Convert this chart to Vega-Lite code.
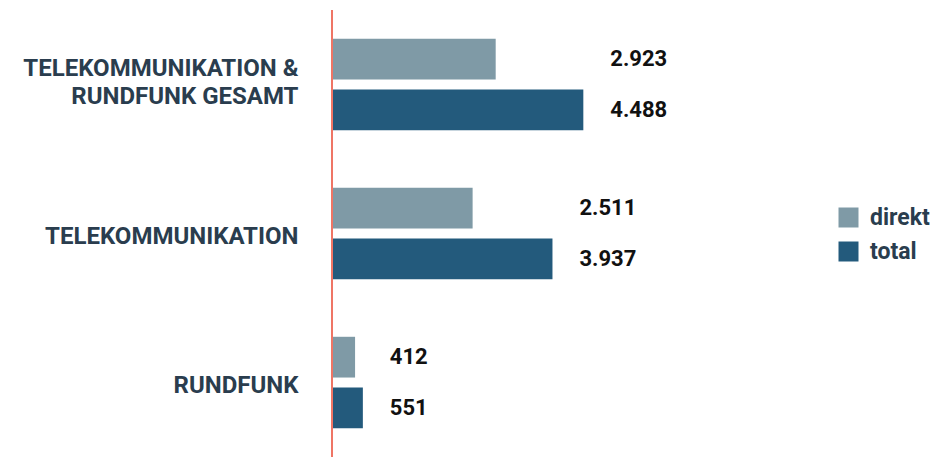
{
  "$schema": "https://vega.github.io/schema/vega-lite/v6.json",
  "autosize": "none",
  "width": 280,
  "height": 447,
  "padding": {"left": 332, "top": 10, "right": 323, "bottom": 0},
  "background": "white",
  "config": {
    "view": {"stroke": null},
    "font": "Roboto",
    "locale": {"number": {"decimal": ",", "thousands": ".", "grouping": [3], "currency": ["", " €"]}}
  },
  "data": {
    "values": [
      {"kategorie": "TELEKOMMUNIKATION & RUNDFUNK GESAMT", "typ": "direkt", "wert": 2923},
      {"kategorie": "TELEKOMMUNIKATION & RUNDFUNK GESAMT", "typ": "total", "wert": 4488},
      {"kategorie": "TELEKOMMUNIKATION", "typ": "direkt", "wert": 2511},
      {"kategorie": "TELEKOMMUNIKATION", "typ": "total", "wert": 3937},
      {"kategorie": "RUNDFUNK", "typ": "direkt", "wert": 412},
      {"kategorie": "RUNDFUNK", "typ": "total", "wert": 551}
    ]
  },
  "transform": [
    {"joinaggregate": [{"op": "max", "field": "wert", "as": "gruppenmax"}], "groupby": ["kategorie"]}
  ],
  "layer": [
    {
      "mark": {"type": "bar"},
      "encoding": {
        "y": {
          "field": "kategorie",
          "type": "nominal",
          "sort": null,
          "scale": {"paddingInner": 0, "paddingOuter": 0},
          "axis": {
            "title": null,
            "domain": false,
            "ticks": false,
            "labelPadding": 34,
            "labelFont": "Roboto",
            "labelFontWeight": "bold",
            "labelFontSize": 24,
            "labelColor": "#2a3d4e",
            "labelLineHeight": 28,
            "labelLimit": 400,
            "labelOffset": {"condition": {"test": "datum.value == 'TELEKOMMUNIKATION & RUNDFUNK GESAMT'", "value": -16}, "value": 3},
            "labelExpr": "datum.value == 'TELEKOMMUNIKATION & RUNDFUNK GESAMT' ? ['TELEKOMMUNIKATION &', 'RUNDFUNK GESAMT'] : datum.value"
          }
        },
        "yOffset": {
          "field": "typ",
          "type": "nominal",
          "scale": {"domain": ["direkt", "total"], "paddingInner": 0.196, "paddingOuter": 0.568}
        },
        "x": {"field": "wert", "type": "quantitative", "scale": {"domain": [0, 5000]}, "axis": null},
        "color": {
          "field": "typ",
          "type": "nominal",
          "scale": {"domain": ["direkt", "total"], "range": ["#7f9aa6", "#235a7c"]},
          "legend": {
            "title": null,
            "orient": "none",
            "legendX": 505,
            "legendY": 196,
            "symbolType": "square",
            "symbolSize": 400,
            "symbolStrokeWidth": 0,
            "symbolOpacity": 1,
            "labelFont": "Roboto",
            "labelFontWeight": "bold",
            "labelFontSize": 23,
            "labelColor": "#2a3d4e",
            "labelOffset": 10,
            "rowPadding": 10
          }
        }
      }
    },
    {
      "mark": {"type": "text", "align": "left", "baseline": "middle", "dx": 27, "fontSize": 22, "fontWeight": "bold", "font": "Roboto", "color": "#111111"},
      "encoding": {
        "y": {"field": "kategorie", "type": "nominal", "sort": null},
        "yOffset": {"field": "typ", "type": "nominal"},
        "x": {"field": "gruppenmax", "type": "quantitative"},
        "text": {"field": "wert", "type": "quantitative", "format": ",d"}
      }
    },
    {
      "mark": {"type": "rule", "color": "#ef7565", "strokeWidth": 2},
      "encoding": {"x": {"datum": 0, "type": "quantitative"}}
    }
  ]
}
